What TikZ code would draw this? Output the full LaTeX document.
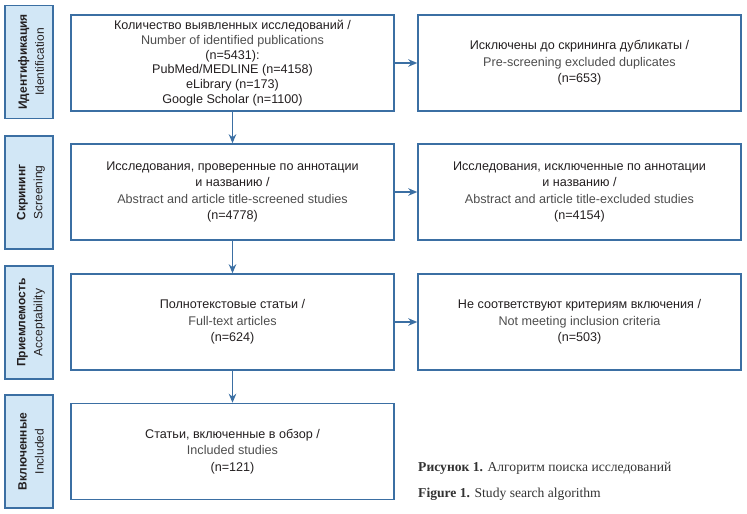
\documentclass[tikz,border=0pt]{standalone}
\usepackage{fontspec}
\setmainfont{Liberation Sans}
\newfontfamily\capfont{Liberation Serif}
\usetikzlibrary{arrows.meta}
\definecolor{bblue}{HTML}{3B6FA3}
\definecolor{lblue}{HTML}{D2E7F6}
\definecolor{rutext}{HTML}{231F20}
\definecolor{entext}{HTML}{4D4D4D}
\definecolor{captext}{HTML}{333333}
\newcommand\en[1]{\textcolor{entext}{#1}}
\begin{document}
\begin{tikzpicture}[x=1pt,y=-1pt,
  box/.style={draw=bblue, line width=1.5pt, minimum width=323pt, minimum height=96pt,
    inner sep=0pt, align=center, text=rutext, font=\fontsize{12.6}{16.5}\selectfont},
  lab/.style={draw=bblue, fill=lblue, line width=1.5pt, minimum width=48pt,
    minimum height=113pt, inner sep=0pt},
  labtxt/.style={rotate=90, inner sep=0pt, align=center, text=rutext,
    font=\fontsize{12}{17}\selectfont},
  arr/.style={draw=bblue, line width=1.5pt, -{Stealth[length=9pt,width=7.5pt]}},
  capt/.style={anchor=base west, inner sep=0pt, text=captext, font=\capfont\fontsize{13.6}{15}\selectfont}]
\useasboundingbox (0,0) rectangle (747,514);
% side labels
\node[lab] (l1) at (29,62) {};
\node[lab] (l2) at (29,192.5) {};
\node[lab] (l3) at (29,322.5) {};
\node[lab] (l4) at (29,451.5) {};
\node[labtxt] (t1) at ([xshift=2pt]l1.center) {\textbf{Идентификация}\\ Identification};
\node[labtxt] (t2) at ([xshift=2pt]l2.center) {\textbf{Скрининг}\\ Screening};
\node[labtxt] (t3) at ([xshift=2pt]l3.center) {\textbf{Приемлемость}\\ Acceptability};
\node[labtxt] (t4) at ([xshift=2pt]l4.center) {\textbf{Включенные}\\ Included};
% left boxes
\node[box, font=\fontsize{12.6}{14.7}\selectfont] (b1) at (232.5,63) {Количество выявленных исследований /\\ \en{Number of identified publications}\\ (n=5431):\\ PubMed/MEDLINE (n=4158)\\ eLibrary (n=173)\\ Google Scholar (n=1100)};
\node[box] (b2) at (232.5,192) {Исследования, проверенные по аннотации\\ и названию /\\ \en{Abstract and article title-screened studies}\\ (n=4778)};
\node[box] (b3) at (232.5,322) {Полнотекстовые статьи /\\ \en{Full-text articles}\\ (n=624)};
\node[box] (b4) at (232.5,451.5) {Статьи, включенные в обзор /\\ \en{Included studies}\\ (n=121)};
% right boxes
\node[box] (r1) at (579.5,63) {Исключены до скрининга дубликаты /\\ \en{Pre-screening excluded duplicates}\\ (n=653)};
\node[box] (r2) at (579.5,192) {Исследования, исключенные по аннотации\\ и названию /\\ \en{Abstract and article title-excluded studies}\\ (n=4154)};
\node[box] (r3) at (579.5,322) {Не соответствуют критериям включения /\\ \en{Not meeting inclusion criteria}\\ (n=503)};
% arrows
\draw[arr] (b1.south) -- (b2.north);
\draw[arr] (b2.south) -- (b3.north);
\draw[arr] (b3.south) -- (b4.north);
\draw[arr] (b1.east) -- (r1.west);
\draw[arr] (b2.east) -- (r2.west);
\draw[arr] (b3.east) -- (r3.west);
% caption
\node[capt] (c1) at (418,471) {\textbf{Рисунок 1.} Алгоритм поиска исследований};
\node[capt] (c2) at (418,497) {\textbf{Figure 1.} Study search algorithm};
\end{tikzpicture}
\end{document}
